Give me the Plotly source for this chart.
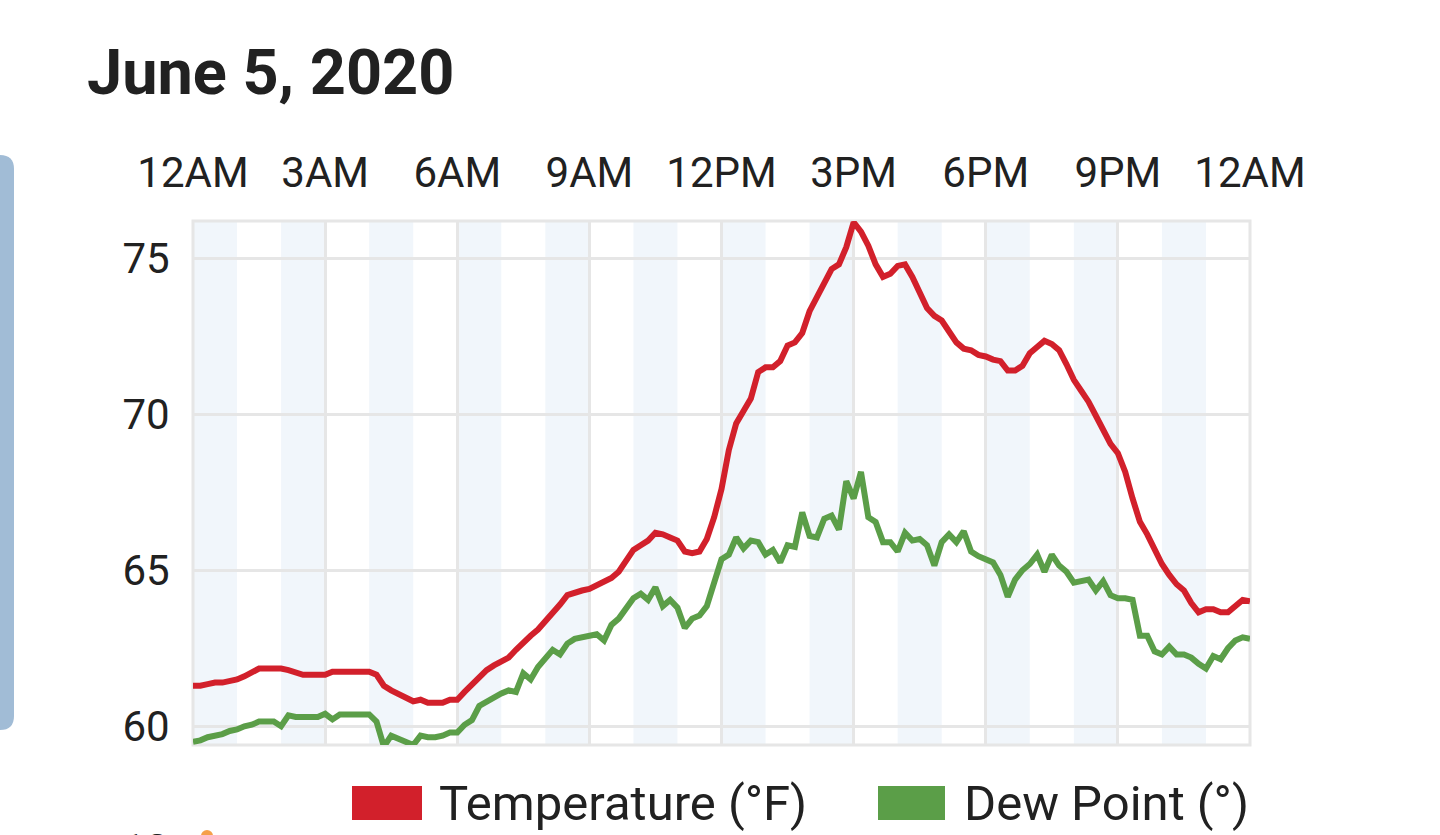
import plotly.graph_objects as go

# readings every 10 minutes, 12AM .. 12AM
minutes = list(range(0, 24 * 60 + 1, 10))
hours = [m / 60 for m in minutes]

temperature = [
    61.3, 61.3, 61.35, 61.4, 61.4, 61.45, 61.5, 61.6, 61.7, 61.85, 61.85, 61.85,
    61.85, 61.8, 61.7, 61.65, 61.65, 61.65, 61.65, 61.75, 61.75, 61.75, 61.75, 61.75,
    61.75, 61.65, 61.3, 61.15, 61.05, 60.95, 60.8, 60.85, 60.75, 60.75, 60.75, 60.85,
    60.85, 61.1, 61.35, 61.6, 61.8, 61.95, 62.05, 62.2, 62.45, 62.7, 62.9, 63.1,
    63.35, 63.65, 63.9, 64.2, 64.3, 64.35, 64.4, 64.5, 64.6, 64.75, 64.95, 65.3,
    65.65, 65.8, 65.95, 66.2, 66.15, 66.05, 65.95, 65.6, 65.55, 65.6, 66.0, 66.7,
    67.6, 68.85, 69.7, 70.1, 70.5, 71.35, 71.5, 71.5, 71.7, 72.2, 72.3, 72.6,
    73.3, 73.75, 74.2, 74.65, 74.8, 75.35, 76.15, 75.85, 75.4, 74.8, 74.4, 74.5,
    74.75, 74.8, 74.4, 73.95, 73.4, 73.15, 73.0, 72.65, 72.3, 72.1, 72.05, 71.9,
    71.85, 71.75, 71.7, 71.4, 71.4, 71.55, 71.95, 72.15, 72.35, 72.25, 72.05, 71.6,
    71.1, 70.75, 70.4, 69.95, 69.45, 69.05, 68.75, 68.15, 67.3, 66.55, 66.15, 65.65,
    65.2, 64.85, 64.55, 64.35, 63.95, 63.65, 63.75, 63.75, 63.65, 63.65, 63.85, 64.05,
    64.0,
]

dew_point = [
    59.5, 59.55, 59.65, 59.7, 59.75, 59.85, 59.9, 60.0, 60.05, 60.15, 60.15, 60.15,
    60.0, 60.35, 60.3, 60.3, 60.3, 60.3, 60.4, 60.22, 60.38, 60.38, 60.38, 60.38,
    60.38, 60.15, 59.35, 59.7, 59.6, 59.5, 59.4, 59.7, 59.65, 59.65, 59.7, 59.8,
    59.8, 60.05, 60.2, 60.65, 60.8, 60.95, 61.05, 61.15, 61.1, 61.7, 61.5, 61.9,
    62.15, 62.45, 62.3, 62.65, 62.8, 62.85, 62.9, 62.95, 62.75, 63.25, 63.45, 63.8,
    64.1, 64.25, 64.05, 64.45, 63.85, 64.05, 63.8, 63.15, 63.45, 63.55, 63.85, 64.6,
    65.35, 65.5, 66.05, 65.7, 65.95, 65.9, 65.5, 65.65, 65.25, 65.8, 65.75, 66.85,
    66.1, 66.05, 66.65, 66.75, 66.3, 67.85, 67.3, 68.15, 66.7, 66.55, 65.9, 65.9,
    65.6, 66.2, 65.95, 66.0, 65.8, 65.15, 65.9, 66.15, 65.9, 66.25, 65.6, 65.45,
    65.35, 65.25, 64.85, 64.15, 64.7, 65.0, 65.2, 65.5, 64.95, 65.5, 65.15, 64.95,
    64.6, 64.65, 64.7, 64.35, 64.65, 64.2, 64.1, 64.1, 64.05, 62.9, 62.9, 62.4,
    62.3, 62.55, 62.3, 62.3, 62.2, 62.0, 61.85, 62.25, 62.15, 62.5, 62.75, 62.85,
    62.8,
]

x_ticks = [0, 3, 6, 9, 12, 15, 18, 21, 24]
x_labels = ["12AM", "3AM", "6AM", "9AM", "12PM", "3PM", "6PM", "9PM", "12AM"]
y_ticks = [60, 65, 70, 75]

W, H = 1440, 835
L, R, T, B = 193, 190, 221, 90
PW, PH = W - L - R, H - T - B


def px(x):
    return (x - L) / PW


def py(y):
    return (H - B - y) / PH


TEXT = "#212121"
GRID = "#e6e6e6"
RED = "#d2202b"
GREEN = "#5b9e48"

fig = go.Figure()
fig.add_trace(go.Scatter(x=hours, y=temperature, mode="lines", name="Temperature (°F)",
                         line=dict(color=RED, width=6)))
fig.add_trace(go.Scatter(x=hours, y=dew_point, mode="lines", name="Dew Point (°)",
                         line=dict(color=GREEN, width=6)))

shapes = []
# alternating hour bands
for h in range(0, 24, 2):
    shapes.append(dict(type="rect", xref="x", yref="paper", x0=h, x1=h + 1, y0=0, y1=1,
                       fillcolor="#f1f6fb", line_width=0, layer="below"))
# plot frame
shapes.append(dict(type="rect", xref="paper", yref="paper", x0=0, x1=1, y0=0, y1=1,
                   line=dict(color=GRID, width=3), layer="below"))
# legend swatches
shapes.append(dict(type="rect", xref="paper", yref="paper", x0=px(352), x1=px(422),
                   y0=py(820), y1=py(786), fillcolor=RED, line_width=0))
shapes.append(dict(type="rect", xref="paper", yref="paper", x0=px(878), x1=px(945),
                   y0=py(820), y1=py(786), fillcolor=GREEN, line_width=0))
# edge of the neighbouring card on the left
r = 14
path = (f"M{px(-20)},{py(155)} L{px(14 - r)},{py(155)} "
        f"Q{px(14)},{py(155)} {px(14)},{py(155 + r)} "
        f"L{px(14)},{py(730 - r)} Q{px(14)},{py(730)} {px(14 - r)},{py(730)} "
        f"L{px(-20)},{py(730)} Z")
shapes.append(dict(type="path", xref="paper", yref="paper", path=path,
                   fillcolor="#a1bcd6", line_width=0))
# cut-off marker of the next chart
shapes.append(dict(type="circle", xref="paper", yref="paper", x0=px(201), x1=px(213),
                   y0=py(842), y1=py(830), fillcolor="#f5a04a", line_width=0))

annotations = [
    dict(text="<b>June 5, 2020</b>", xref="paper", yref="paper", x=px(85), y=py(72),
         xanchor="left", yanchor="middle", showarrow=False,
         font=dict(family="Roboto", size=63, color=TEXT)),
    dict(text="Temperature (°F)", xref="paper", yref="paper", x=px(437), y=py(803),
         xanchor="left", yanchor="middle", showarrow=False,
         font=dict(family="Roboto", size=49, color=TEXT)),
    dict(text="Dew Point (°)", xref="paper", yref="paper", x=px(962), y=py(803),
         xanchor="left", yanchor="middle", showarrow=False,
         font=dict(family="Roboto", size=49, color=TEXT)),
    dict(text="12", xref="paper", yref="paper", x=px(171), y=py(823),
         xanchor="right", yanchor="top", showarrow=False,
         font=dict(family="Roboto", size=42, color=TEXT)),
]

fig.update_layout(
    width=W, height=H,
    margin=dict(l=L, r=R, t=T, b=B),
    paper_bgcolor="white", plot_bgcolor="white",
    showlegend=False,
    shapes=shapes,
    annotations=annotations,
    font=dict(family="Roboto", color=TEXT),
)
fig.update_xaxes(
    range=[0, 24], side="top", tickvals=x_ticks, ticktext=x_labels,
    showgrid=True, gridcolor=GRID, gridwidth=3, zeroline=False, showline=False,
    ticks="outside", ticklen=16, tickcolor="rgba(0,0,0,0)",
    tickfont=dict(family="Roboto", size=42, color=TEXT),
)
fig.update_yaxes(
    range=[59.4, 76.19], tickvals=y_ticks,
    showgrid=True, gridcolor=GRID, gridwidth=3, zeroline=False, showline=False,
    ticks="outside", ticklen=14, tickcolor="rgba(0,0,0,0)",
    tickfont=dict(family="Roboto", size=42, color=TEXT),
)

fig.write_html("out.html", config={"displayModeBar": False},
               post_script="document.body.style.margin = '0';")
